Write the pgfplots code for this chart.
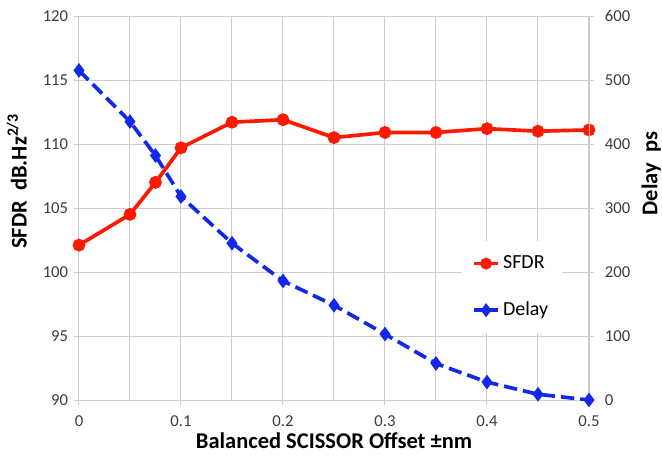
\documentclass[border=0pt]{standalone}
\usepackage{pgfplots}
\pgfplotsset{compat=1.18}
\usepackage{fontspec}
\setmainfont{Carlito}

\definecolor{sfdrred}{RGB}{255,25,0}
\definecolor{delayblue}{RGB}{20,40,235}
\definecolor{gridgray}{RGB}{205,205,205}
\definecolor{ticktext}{RGB}{60,60,60}

\pgfplotsset{
  base/.style={
    scale only axis, width=306pt, height=230.4pt,
    xmin=0, xmax=0.5,
    tick label style={font=\fontsize{10}{12}\selectfont, text=ticktext},
    /pgf/number format/assume math mode=true,
    axis line style={draw=gridgray, line width=0.6pt},
    tick style={draw=gridgray, line width=0.6pt},
    tick align=outside, major tick length=3pt,
    label style={font=\bfseries\fontsize{13.5}{15}\selectfont},
  },
}

\begin{document}
\begin{tikzpicture}
\begin{axis}[base,
  ymin=90, ymax=120, ytick={90,95,...,120},
  xtick={0,0.1,...,0.5},
  minor xtick={0.05,0.15,...,0.45},
  xticklabels={0,0.1,0.2,0.3,0.4,0.5},
  x tick label style={yshift=-3pt},
  grid=both,
  major grid style={draw=gridgray, line width=0.6pt},
  minor grid style={draw=gridgray, line width=0.6pt},
  minor tick length=0pt,
  axis y line*=left, axis x line*=bottom,
  xlabel={Balanced SCISSOR Offset ±nm},
  ylabel={SFDR~~dB.Hz\textsuperscript{2/3}},
  x label style={at={(axis description cs:0.5,-0.107)}, anchor=center},
  y label style={at={(axis description cs:-0.122,0.57)}, anchor=center},
]
\addplot[sfdrred, line width=2.2pt, mark=*, mark size=2.7pt] coordinates {
  (0,102.1) (0.05,104.5) (0.075,107.0) (0.1,109.7) (0.15,111.7) (0.2,111.9)
  (0.25,110.5) (0.3,110.9) (0.35,110.9) (0.4,111.2) (0.45,111.0) (0.5,111.1)
};
\end{axis}
\begin{axis}[base,
  ymin=0, ymax=600, ytick={0,100,...,600},
  y tick label style={xshift=3pt},
  axis y line*=right, axis x line=none,
  ylabel={Delay~~ps},
  y label style={at={(axis description cs:1.122,0.59)}, anchor=center},
  legend style={at={(axis description cs:0.849,0.294)}, anchor=center,
    draw=none, fill=white, inner xsep=6pt, inner ysep=7pt,
    font=\fontsize{12}{14}\selectfont, row sep=14.4pt,
    /tikz/every even column/.append style={column sep=0pt}},
  legend image code/.code={
    \draw[mark repeat=2, mark phase=2] plot coordinates {(0cm,0cm) (0.25cm,0cm) (0.5cm,0cm)};},
  legend cell align=left,
]
\addlegendimage{sfdrred, line width=2.2pt, mark=*, mark size=2.4pt}
\addlegendentry{SFDR}
\addplot[delayblue, line width=2.2pt, dash pattern=on 8pt off 3.6pt,
  mark=diamond*, mark size=2.6pt, mark options={solid}, forget plot] coordinates {
  (0,515) (0.05,435) (0.075,382) (0.1,318) (0.15,245) (0.2,186)
  (0.25,148) (0.3,103) (0.35,57) (0.4,28) (0.45,9) (0.5,0)
};
\addlegendimage{delayblue, line width=2.2pt, mark=diamond*, mark size=2.4pt}
\addlegendentry{Delay}
\end{axis}
\pgfresetboundingbox
\path[use as bounding box] (-47.4pt,-34.2pt) rectangle (349.8pt,240pt);
\end{tikzpicture}
\end{document}
